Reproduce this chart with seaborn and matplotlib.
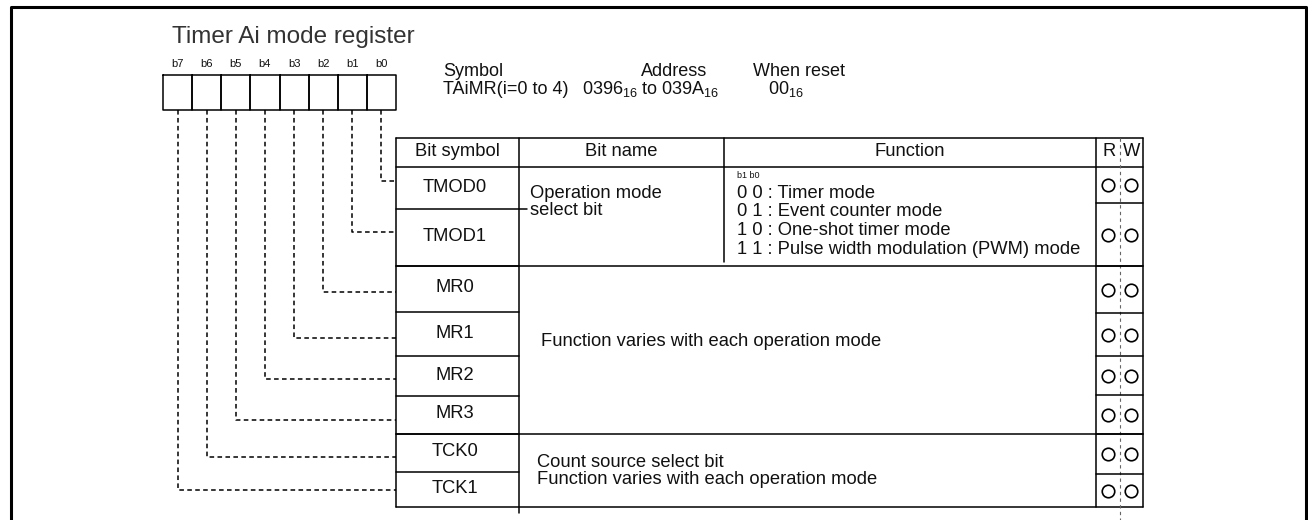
import matplotlib
matplotlib.use("Agg")
import matplotlib.pyplot as plt
import seaborn as sns

# register content
title = "Timer Ai mode register"
bit_labels = ["b7", "b6", "b5", "b4", "b3", "b2", "b1", "b0"]
header = ["Bit symbol", "Bit name", "Function", "R", "W"]
bit_symbols = ["TMOD0", "TMOD1", "MR0", "MR1", "MR2", "MR3", "TCK0", "TCK1"]
# which register bit (index into bit_labels) feeds each table row
row_bits = [7, 6, 5, 4, 3, 2, 1, 0]
mode_bits = ["0 0 : Timer mode", "0 1 : Event counter mode",
             "1 0 : One-shot timer mode", "1 1 : Pulse width modulation (PWM) mode"]
group_names = ["Operation mode\nselect bit", "", "Count source select bit\nFunction varies with each operation mode"]
group_funcs = ["", "Function varies with each operation mode", ""]
info_heads = ["Symbol", "Address", "When reset"]
info_vals = ["TAiMR(i=0 to 4)", r"0396$_{16}$ to 039A$_{16}$", r"00$_{16}$"]

# layout (pixels)
W, H = 1308, 520
box_x0, box_x1, box_y0, box_y1 = 163, 396, 75, 110
col_x = [396, 519, 724, 1096, 1143]
rw_mid = 1120
tab_top, head_bot = 138, 167
row_edges = [167, 209, 266, 312, 356, 396, 434, 472, 507]
rw_edges = [167, 203, 266, 313, 356, 395, 434, 474, 507]
group_rows = [(0, 2), (2, 6), (6, 8)]
conn_y = [181, 232, 292, 338, 379, 420, 457, 490]

sns.set_theme(style="white")
plt.rcParams['font.family'] = ['Liberation Sans', 'DejaVu Sans']
plt.rcParams['mathtext.fontset'] = 'custom'
plt.rcParams['mathtext.rm'] = 'Liberation Sans'
plt.rcParams['mathtext.it'] = 'Liberation Sans:italic'
plt.rcParams['mathtext.default'] = 'regular'

fig = plt.figure(figsize=(W / 100, H / 100), dpi=100)
ax = fig.add_axes([0, 0, 1, 1])
ax.set_xlim(0, W)
ax.set_ylim(H, 0)
ax.axis('off')

lw = 1.1
fs = 13.2
ink = '#111111'

# outer frame
ax.plot([11, 11, 1306, 1306], [H + 5, 7, 7, H + 5], color='black', lw=2.2)

# title and register boxes
ax.text(172, 37, title, fontsize=17.5, va='center', ha='left', color='#333333')
bw = (box_x1 - box_x0) / len(bit_labels)
for i, lab in enumerate(bit_labels):
    x0 = box_x0 + i * bw
    ax.plot([x0, x0 + bw, x0 + bw, x0, x0], [box_y0, box_y0, box_y1, box_y1, box_y0],
            color='black', lw=lw)
    ax.text(x0 + bw / 2, 64, lab, fontsize=8, ha='center', va='center', color=ink)

# symbol / address / reset info
ifs = 13
ax.text(443, 72, info_heads[0], fontsize=ifs, va='center', ha='left', color=ink)
ax.text(674, 72, info_heads[1], fontsize=ifs, va='center', ha='center', color=ink)
ax.text(753, 72, info_heads[2], fontsize=ifs, va='center', ha='left', color=ink)
ax.text(443, 89, info_vals[0], fontsize=ifs, va='center', ha='left', color=ink)
ax.text(582, 89, info_vals[1], fontsize=ifs, va='center', ha='left', color=ink)
ax.text(768, 89, info_vals[2], fontsize=ifs, va='center', ha='left', color=ink)

# dashed connectors from bits to table rows
for r, b in enumerate(row_bits):
    xc = box_x0 + (b + 0.5) * bw
    ax.plot([xc, xc, col_x[0]], [box_y1, conn_y[r], conn_y[r]], color='black',
            lw=1.1, linestyle=(0, (3, 2.2)))

# table frame
L, R = col_x[0], col_x[-1]
ax.plot([L, R], [tab_top, tab_top], color='black', lw=lw)
ax.plot([L, R], [head_bot, head_bot], color='black', lw=lw)
ax.plot([L, R], [row_edges[-1], row_edges[-1]], color='black', lw=lw)
ax.plot([L, L], [tab_top, row_edges[-1]], color='black', lw=lw)
ax.plot([col_x[1], col_x[1]], [tab_top, row_edges[-1] + 6], color='black', lw=lw)
ax.plot([col_x[2], col_x[2]], [tab_top, row_edges[2] - 4], color='black', lw=lw)
ax.plot([col_x[3], col_x[3]], [tab_top, row_edges[-1]], color='black', lw=lw)
ax.plot([R, R], [tab_top, row_edges[-1]], color='black', lw=lw)
ax.plot([rw_mid, rw_mid], [tab_top, H], color='#666666', lw=0.8, linestyle=(0, (3, 3)))

# group separators (full width)
for a, b in group_rows[1:]:
    ax.plot([L, R], [row_edges[a], row_edges[a]], color='black', lw=lw)

# row separators in bit symbol column and R/W column
for k in range(1, len(row_edges) - 1):
    x_end = 527 if k == 1 else col_x[1]
    ax.plot([L, x_end], [row_edges[k], row_edges[k]], color='black', lw=lw)
    ax.plot([col_x[3], R], [rw_edges[k], rw_edges[k]], color='black', lw=lw)

# header texts
hx = [(col_x[0] + col_x[1]) / 2, (col_x[1] + col_x[2]) / 2, (col_x[2] + col_x[3]) / 2,
      (col_x[3] + rw_mid) / 2 + 1, (rw_mid + R) / 2]
for t, x in zip(header, hx):
    ax.text(x, 152, t, fontsize=fs, ha='center', va='center', color=ink)

# bit symbols and R/W circles
for k, s in enumerate(bit_symbols):
    yc = (row_edges[k] + row_edges[k + 1]) / 2
    ax.text(455, yc - 1, s, fontsize=fs, ha='center', va='center', color=ink)
    yr = (rw_edges[k] + rw_edges[k + 1]) / 2
    ax.plot([1108, 1131], [yr, yr], linestyle='none', marker='o', markersize=9,
            markerfacecolor='white', markeredgecolor='black', markeredgewidth=1.2)

# bit names / functions
ax.text(530, 202, group_names[0], fontsize=fs, ha='left', va='center', linespacing=1.05, color=ink)
ax.text(737, 175, "b1 b0", fontsize=6.5, ha='left', va='center', color=ink)
for i, m in enumerate(mode_bits):
    ax.text(737, 193 + i * 18.7, m, fontsize=fs, ha='left', va='center', color=ink)
ax.text(541, 341, group_funcs[1], fontsize=fs, ha='left', va='center', color=ink)
ax.text(537, 471, group_names[2], fontsize=fs, ha='left', va='center', linespacing=1.0, color=ink)

fig.savefig("out.png", dpi=100)
